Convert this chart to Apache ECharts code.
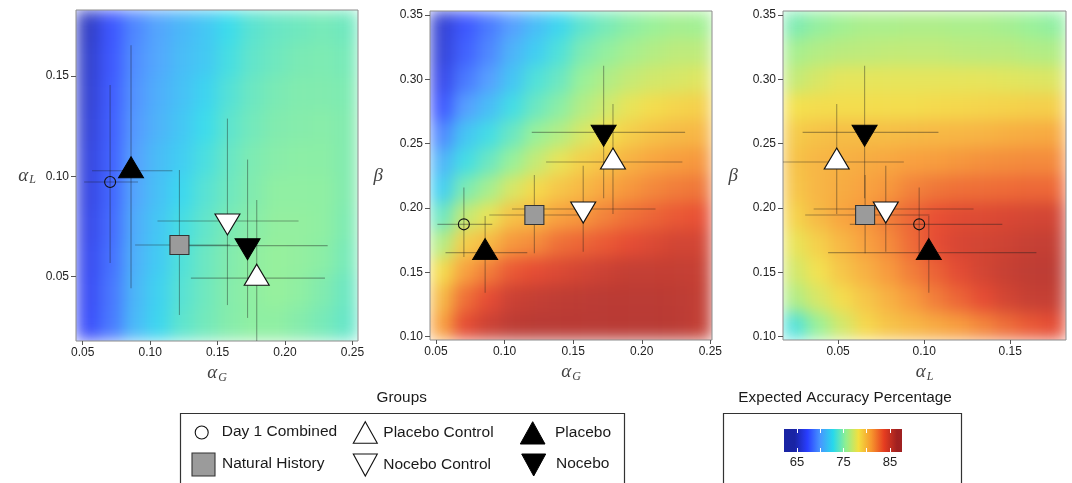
<!DOCTYPE html>
<html>
<head>
<meta charset="utf-8">
<script src="https://cdn.jsdelivr.net/npm/echarts@6/dist/echarts.min.js"></script>
<style>
html,body{margin:0;padding:0;background:#fff;}
#wrap{position:relative;width:1072px;height:483px;overflow:hidden;background:#fff;}
.heat{position:absolute;filter:url(#smooth);}
#main{position:absolute;left:0;top:0;width:1072px;height:483px;}
</style>
</head>
<body>
<svg width="0" height="0" style="position:absolute">
  <defs>
    <filter id="smooth" x="0" y="0" width="1" height="1" color-interpolation-filters="sRGB">
      <feGaussianBlur stdDeviation="8" edgeMode="duplicate"/>
    </filter>
  </defs>
</svg>
<div id="wrap">
  <div id="heat0" class="heat"></div>
  <div id="heat1" class="heat"></div>
  <div id="heat2" class="heat"></div>
  <div id="main"></div>
</div>
<script>
// ---------------- DATA ----------------
const groups = ['Day 1 Combined','Natural History','Placebo Control','Nocebo Control','Placebo','Nocebo'];

const alphaG     = [0.0703, 0.1217, 0.1790, 0.1573, 0.0858, 0.1722];
const alphaGLow  = [0.0510, 0.0888, 0.1302, 0.1054, 0.0569, 0.1198];
const alphaGHigh = [0.0910, 0.1593, 0.2296, 0.2100, 0.1165, 0.2316];

const alphaL     = [0.0971, 0.0657, 0.0492, 0.0777, 0.1027, 0.0654];
const alphaLLow  = [0.0568, 0.0309, 0.0100, 0.0358, 0.0442, 0.0294];
const alphaLHigh = [0.1454, 0.1031, 0.0882, 0.1287, 0.1652, 0.1083];

const beta       = [0.1873, 0.1946, 0.2357, 0.1992, 0.1653, 0.2588];
const betaLow    = [0.1620, 0.1648, 0.1953, 0.1660, 0.1342, 0.2075];
const betaHigh   = [0.2160, 0.2256, 0.2808, 0.2329, 0.1938, 0.3106];

// tick labels
const ticksAlphaG = [0.05, 0.10, 0.15, 0.20, 0.25];
const ticksAlphaL = [0.05, 0.10, 0.15];
const ticksBeta   = [0.10, 0.15, 0.20, 0.25, 0.30, 0.35];
const ticksAccLabel = [65, 75, 85];
const ticksAccMarks = [65, 70, 75, 80, 85];

// axis ranges
const rangeAlphaG1 = [0.0450, 0.2541];
const rangeAlphaL1 = [0.0179, 0.1828];
const rangeAlphaG2 = [0.0456, 0.2512];
const rangeBeta    = [0.0974, 0.3531];
const rangeAlphaL3 = [0.0180, 0.1824];
const rangeAccBar  = [62.2, 87.6];   // extent of the colour bar
const rangeAccMap  = [64.5, 86.5];   // colour scale limits

// heat map 1 : alpha_G (columns) x alpha_L (rows, top to bottom), expected accuracy %
const heat1Cols = [0.0537,0.0711,0.0886,0.1060,0.1234,0.1408,0.1583,0.1757,0.1931,0.2105,0.2280,0.2454];
const heat1Rows = [0.1746,0.1581,0.1416,0.1251,0.1086,0.0921,0.0756,0.0591,0.0426,0.0261];
const heat1Values = [
  [65.3,67.5,69.2,70.3,71.1,71.8,72.8,73.7,74.1,74.3,74.5,74.3],
  [65.5,67.6,69.4,70.4,71.3,71.9,73.1,73.9,74.3,74.6,74.7,74.5],
  [65.7,67.7,69.6,70.7,71.5,72.4,73.5,74.2,74.6,74.8,74.8,74.7],
  [65.9,67.8,69.8,70.9,71.8,72.8,73.8,74.4,74.8,74.9,75.0,74.8],
  [66.1,67.9,70.1,71.3,72.1,73.2,74.1,74.7,75.0,75.1,75.1,74.8],
  [66.3,68.0,70.3,71.5,72.6,73.6,74.3,74.8,75.2,75.2,75.2,74.8],
  [66.5,68.2,70.6,71.8,73.1,73.9,74.6,75.0,75.3,75.3,75.2,74.7],
  [66.7,68.4,70.8,72.0,73.4,74.2,74.8,75.2,75.4,75.3,75.1,74.5],
  [66.9,68.6,71.0,72.3,73.6,74.3,74.9,75.2,75.4,75.2,74.8,74.2],
  [67.1,68.7,71.2,72.5,73.8,74.4,74.9,75.2,75.2,74.9,74.5,74.0]
];

// heat map 2 : alpha_G (columns) x beta (rows, top to bottom)
const heat2Cols = [0.0542,0.0713,0.0885,0.1056,0.1227,0.1398,0.1570,0.1741,0.1912,0.2084,0.2255,0.2426];
const heat2Rows = [0.3424,0.3211,0.2998,0.2785,0.2572,0.2359,0.2146,0.1933,0.1720,0.1507,0.1294,0.1081];
const heat2Values = [
  [65.8,67.5,68.7,70.0,71.3,72.5,73.8,74.5,75.1,75.5,75.8,75.7],
  [66.0,67.9,69.2,70.9,72.1,73.4,74.7,75.3,75.9,76.3,76.6,76.6],
  [66.6,68.7,70.0,71.7,73.4,74.2,75.5,76.2,76.8,77.2,77.4,77.6],
  [67.5,70.0,71.3,73.0,74.2,75.1,76.3,77.1,77.9,78.5,78.8,79.0],
  [69.2,71.7,73.0,74.2,75.5,76.3,77.4,78.3,79.1,79.6,79.9,80.1],
  [70.9,73.0,74.2,75.5,76.8,77.9,79.0,79.6,80.3,80.8,81.1,81.3],
  [72.1,74.7,75.9,77.4,78.6,79.4,80.0,80.7,81.3,81.8,82.2,82.4],
  [74.2,76.8,77.9,79.6,80.0,80.9,81.3,82.0,82.6,83.0,83.4,83.7],
  [76.3,79.1,80.0,81.3,81.7,82.6,83.0,83.4,83.9,84.3,84.7,84.7],
  [78.5,80.9,82.2,83.4,83.9,84.3,84.7,85.0,85.3,85.3,85.3,85.2],
  [79.9,82.6,83.9,85.0,85.3,85.5,85.6,85.7,85.7,85.7,85.6,85.4],
  [80.9,83.9,85.0,85.6,85.8,85.8,85.8,85.8,85.8,85.8,85.7,85.4]
];

// heat map 3 : alpha_L (columns) x beta (rows, top to bottom)
const heat3Cols = [0.0249,0.0386,0.0523,0.0660,0.0797,0.0934,0.1071,0.1208,0.1345,0.1482,0.1619,0.1756];
const heat3Rows = [0.3424,0.3211,0.2998,0.2785,0.2572,0.2359,0.2146,0.1933,0.1720,0.1507,0.1294,0.1081];
const heat3Values = [
  [74.7,75.3,75.7,76.0,76.0,76.1,76.1,76.0,76.0,75.8,75.5,75.2],
  [75.9,76.3,76.5,76.6,76.7,76.7,76.7,76.6,76.5,76.5,76.3,76.2],
  [76.8,77.4,77.8,77.8,77.8,77.8,77.8,77.8,77.8,77.7,77.6,77.5],
  [78.3,78.5,78.5,78.5,78.5,78.5,78.6,78.7,78.8,78.9,79.0,79.0],
  [79.2,79.6,79.8,79.8,79.8,79.9,80.0,80.1,80.2,80.4,80.5,80.6],
  [79.6,80.1,80.3,80.5,80.7,81.0,81.1,81.3,81.5,81.6,81.7,81.7],
  [79.4,80.1,80.5,80.9,81.3,82.0,82.4,82.6,82.7,82.8,82.9,82.9],
  [78.9,79.9,80.8,81.3,82.2,83.0,83.7,84.1,84.2,84.4,84.6,84.7],
  [77.9,79.0,80.0,80.9,81.7,82.8,83.9,84.5,84.7,84.9,85.2,85.3],
  [77.2,78.2,79.4,80.3,81.2,82.2,83.1,84.0,84.7,85.2,85.5,85.6],
  [76.2,77.4,78.5,79.4,80.3,81.2,82.2,83.0,83.9,84.7,85.2,85.3],
  [73.4,75.5,77.2,78.7,79.5,80.0,80.6,81.1,81.9,82.7,83.4,83.9]
];

// ---------------- STYLE / LAYOUT ----------------
// jet-like palette (slightly muted, as in the original figure)
const JET = ['#000c9a','#1129ff','#338bff','#10d4ea','#84ee84','#f2dc2a','#f68b16','#e32808','#950808'];
const LAYOUT = [
  {left:76,  top:10, width:282, height:331},
  {left:430, top:11, width:282, height:329},
  {left:783, top:11, width:283, height:329}
];
const SANS = '"Liberation Sans", Arial, sans-serif';
const SERIF = '"Liberation Serif", "DejaVu Serif", serif';
const UP = 'path://M1,0L2,2L0,2Z';
const DOWN = 'path://M0,0L2,0L1,2Z';
const markerStyles = [
  {symbol:'circle', size:11, offset:[0,0], color:'rgba(0,0,0,0)', border:'#111', bw:1.1},
  {symbol:'rect', size:19, offset:[0,0], color:'#9b9b9b', border:'#333', bw:1.1},
  {symbol:UP, size:[25,21], offset:[0,-3.5], color:'#ffffff', border:'#111', bw:1.1},
  {symbol:DOWN, size:[25,21], offset:[0,3.5], color:'#ffffff', border:'#111', bw:1.1},
  {symbol:UP, size:[25,21], offset:[0,-3.5], color:'#000000', border:'#000', bw:1},
  {symbol:DOWN, size:[25,21], offset:[0,3.5], color:'#000000', border:'#000', bw:1}
];

// ---------------- HEATMAP LAYERS ----------------
const heatSets = [
  {cols:heat1Cols, rows:heat1Rows, values:heat1Values},
  {cols:heat2Cols, rows:heat2Rows, values:heat2Values},
  {cols:heat3Cols, rows:heat3Rows, values:heat3Values}
];
heatSets.forEach((h, p) => {
  const div = document.getElementById('heat' + p);
  const L = LAYOUT[p];
  div.style.left = L.left + 'px';
  div.style.top = L.top + 'px';
  div.style.width = L.width + 'px';
  div.style.height = L.height + 'px';
  const chart = echarts.init(div, null, {renderer:'canvas'});
  const data = [];
  h.values.forEach((row, r) => row.forEach((v, c) => data.push([c, r, v])));
  chart.setOption({
    animation:false,
    backgroundColor:'#ffffff',
    grid:{left:0, right:0, top:0, bottom:0},
    xAxis:{type:'category', data:h.cols.map(String), show:false},
    yAxis:{type:'category', data:h.rows.map(String), show:false, inverse:true},
    visualMap:{show:false, min:rangeAccMap[0], max:rangeAccMap[1], inRange:{color:JET}},
    series:[{type:'heatmap', data:data, itemStyle:{opacity:0.82}, emphasis:{disabled:true}}]
  });
});

// ---------------- MAIN CHART ----------------
const panels = [
  {x:alphaG, xl:alphaGLow, xh:alphaGHigh, y:alphaL, yl:alphaLLow, yh:alphaLHigh},
  {x:alphaG, xl:alphaGLow, xh:alphaGHigh, y:beta, yl:betaLow, yh:betaHigh},
  {x:alphaL, xl:alphaLLow, xh:alphaLHigh, y:beta, yl:betaLow, yh:betaHigh}
];
const xRanges = [rangeAlphaG1, rangeAlphaG2, rangeAlphaL3];
const yRanges = [rangeAlphaL1, rangeBeta, rangeBeta];
const xTicks = [ticksAlphaG, ticksAlphaG, ticksAlphaL];
const yTicks = [ticksAlphaL, ticksBeta, ticksBeta];
const xNames = ['{a|α}{s|G}', '{a|α}{s|G}', '{a|α}{s|L}'];
const yNames = ['{a|α}{s|L}', '{a|β}', '{a|β}'];
const yNameGaps = [40, 47, 45];

const nameRich = {
  a:{fontFamily:SERIF, fontStyle:'italic', fontSize:19, color:'#444'},
  s:{fontFamily:SERIF, fontStyle:'italic', fontSize:12, color:'#444', padding:[9,0,0,1]}
};

// colour bar gradient: colour scale limits placed within the bar extent
function hexA(hex, a) {
  const n = parseInt(hex.slice(1), 16);
  return 'rgba(' + (n >> 16) + ',' + ((n >> 8) & 255) + ',' + (n & 255) + ',' + a + ')';
}
const barSpan = rangeAccBar[1] - rangeAccBar[0];
const barStops = [{offset:0, color:hexA(JET[0], 0.9)}];
JET.forEach((c, i) => {
  const v = rangeAccMap[0] + (rangeAccMap[1] - rangeAccMap[0]) * i / (JET.length - 1);
  barStops.push({offset:(v - rangeAccBar[0]) / barSpan, color:hexA(c, 0.9)});
});
barStops.push({offset:1, color:hexA(JET[JET.length - 1], 0.9)});

const grids = LAYOUT.map(L => ({left:L.left, top:L.top, width:L.width, height:L.height,
  show:true, backgroundColor:'transparent', borderColor:'#8c8c8c', borderWidth:1}));
grids.push({left:784, top:429, width:118, height:23, show:true, borderWidth:0,
  backgroundColor:new echarts.graphic.LinearGradient(0, 0, 1, 0, barStops)});

const xAxes = [0,1,2].map(i => ({
  type:'value', gridIndex:i, min:xRanges[i][0], max:xRanges[i][1],
  axisLine:{show:false},
  axisTick:{show:true, length:4, lineStyle:{color:'#555'}, customValues:xTicks[i]},
  axisLabel:{customValues:xTicks[i], formatter:v => v.toFixed(2), fontSize:12, color:'#222', fontFamily:SANS, margin:6},
  splitLine:{show:false},
  name:xNames[i], nameLocation:'middle', nameGap:20,
  nameTextStyle:{rich:nameRich}
}));
xAxes.push({
  type:'value', gridIndex:3, min:rangeAccBar[0], max:rangeAccBar[1],
  axisLine:{show:false},
  axisTick:{show:true, inside:true, length:4, lineStyle:{color:'#ffffff', width:1}, customValues:ticksAccMarks},
  axisLabel:{customValues:ticksAccLabel, fontSize:13, color:'#222', fontFamily:SANS, margin:4},
  splitLine:{show:false}
});
xAxes.push({
  type:'value', gridIndex:3, position:'top', min:rangeAccBar[0], max:rangeAccBar[1],
  axisLine:{show:false},
  axisTick:{show:true, inside:true, length:4, lineStyle:{color:'#ffffff', width:1}, customValues:ticksAccMarks},
  axisLabel:{show:false}, splitLine:{show:false}
});
const yAxes = [0,1,2].map(i => ({
  type:'value', gridIndex:i, min:yRanges[i][0], max:yRanges[i][1],
  axisLine:{show:false},
  axisTick:{show:true, length:5, lineStyle:{color:'#555'}, customValues:yTicks[i]},
  axisLabel:{customValues:yTicks[i], formatter:v => v.toFixed(2), fontSize:12, color:'#222', fontFamily:SANS, margin:7},
  splitLine:{show:false},
  name:yNames[i], nameLocation:'middle', nameRotate:0, nameGap:yNameGaps[i],
  nameTextStyle:{rich:nameRich}
}));
yAxes.push({type:'value', gridIndex:3, min:0, max:1, show:false});

const series = [];
panels.forEach((P, i) => {
  series.push({
    type:'custom', xAxisIndex:i, yAxisIndex:i, clip:true, z:2, silent:true,
    data: groups.map((g, k) => [P.x[k], P.y[k], P.xl[k], P.xh[k], P.yl[k], P.yh[k]]),
    encode:{x:[0,2,3], y:[1,4,5]},
    renderItem:(params, api) => {
      const x = api.value(0), y = api.value(1);
      const a = api.coord([api.value(2), y]), b = api.coord([api.value(3), y]);
      const c = api.coord([x, api.value(4)]), d = api.coord([x, api.value(5)]);
      const st = {stroke:'rgba(30,30,30,0.38)', lineWidth:1.1};
      return {type:'group', children:[
        {type:'line', shape:{x1:a[0], y1:a[1], x2:b[0], y2:b[1]}, style:st},
        {type:'line', shape:{x1:c[0], y1:c[1], x2:d[0], y2:d[1]}, style:st}
      ]};
    }
  });
  series.push({
    type:'scatter', xAxisIndex:i, yAxisIndex:i, z:5, silent:true,
    emphasis:{disabled:true},
    data: groups.map((g, k) => {
      const m = markerStyles[k];
      return {name:g, value:[P.x[k], P.y[k]], symbol:m.symbol, symbolSize:m.size, symbolOffset:m.offset,
        itemStyle:{color:m.color, borderColor:m.border, borderWidth:m.bw, opacity:1}};
    })
  });
});
series.push({type:'scatter', xAxisIndex:3, yAxisIndex:3, data:[], silent:true});

// legend / colour key drawing
const txt = (x, y, s, size, align) => ({type:'text', x:x, y:y, silent:true,
  style:{text:s, font:size + 'px ' + SANS, fill:'#1a1a1a', align:align || 'left', verticalAlign:'middle'}});
const iconStroke = {stroke:'#111', lineWidth:1.1};
const graphic = [
  txt(401.7, 398, 'Groups', 15.3, 'center'),
  {type:'rect', silent:true, shape:{x:180.5, y:413.5, width:444, height:90}, style:{fill:'none', stroke:'#333', lineWidth:1.2}},
  {type:'circle', silent:true, shape:{cx:201.7, cy:432.5, r:6.5}, style:Object.assign({fill:'#fff'}, iconStroke)},
  txt(221.7, 432, groups[0], 15.5),
  {type:'rect', silent:true, shape:{x:192, y:453, width:23, height:23}, style:Object.assign({fill:'#9b9b9b'}, iconStroke, {stroke:'#333'})},
  txt(222, 463.5, groups[1], 15.5),
  {type:'polygon', silent:true, shape:{points:[[365.3,421.7],[377.3,443.3],[353.3,443.3]]}, style:Object.assign({fill:'#fff'}, iconStroke)},
  txt(383.3, 433, groups[2], 15.5),
  {type:'polygon', silent:true, shape:{points:[[353.3,454],[377.3,454],[365.3,476]]}, style:Object.assign({fill:'#fff'}, iconStroke)},
  txt(383.3, 465, groups[3], 15.5),
  {type:'polygon', silent:true, shape:{points:[[532.7,421.7],[545,444],[520.3,444]]}, style:{fill:'#000', stroke:'#000', lineWidth:1}},
  txt(555, 432.5, groups[4], 15.5),
  {type:'polygon', silent:true, shape:{points:[[521.7,454],[545.7,454],[533.7,476]]}, style:{fill:'#000', stroke:'#000', lineWidth:1}},
  txt(556, 463.5, groups[5], 15.5),
  txt(845, 398, 'Expected Accuracy Percentage', 15.3, 'center'),
  {type:'rect', silent:true, shape:{x:723.5, y:413.5, width:238, height:90}, style:{fill:'none', stroke:'#333', lineWidth:1.2}}
];

const main = echarts.init(document.getElementById('main'), null, {renderer:'canvas'});
main.setOption({
  animation:false,
  backgroundColor:'transparent',
  grid:grids,
  xAxis:xAxes,
  yAxis:yAxes,
  series:series,
  graphic:graphic
});
</script>
</body>
</html>
